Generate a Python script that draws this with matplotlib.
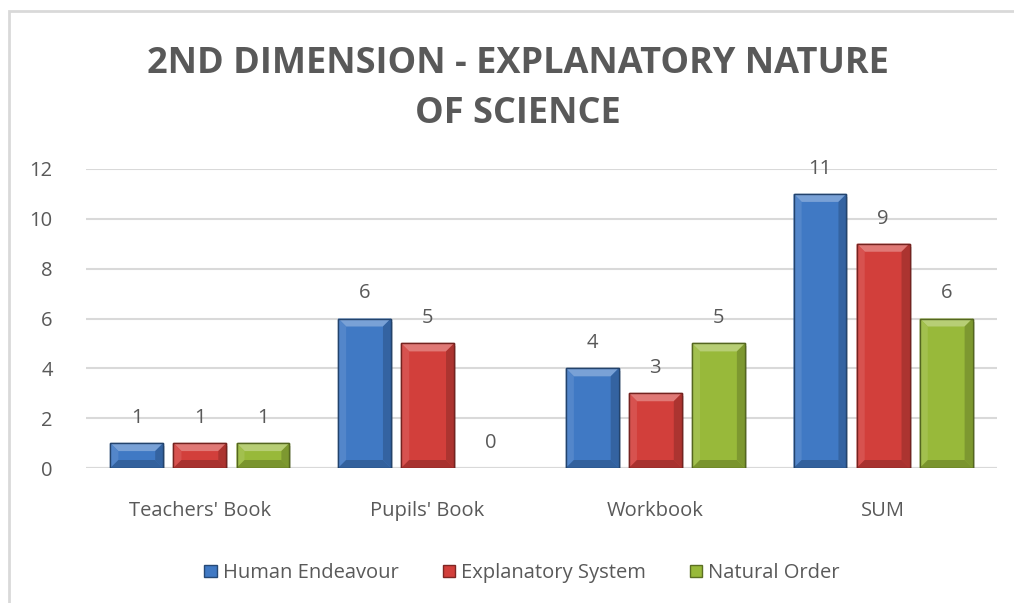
import matplotlib
matplotlib.use("Agg")
import matplotlib.pyplot as plt
from matplotlib.patches import Polygon, Rectangle
import matplotlib.colors as mcolors
import numpy as np

categories = ["Teachers' Book", "Pupils' Book", "Workbook", "SUM"]
series_names = ["Human Endeavour", "Explanatory System", "Natural Order"]
human_endeavour = [1, 6, 4, 11]
explanatory_system = [1, 5, 3, 9]
natural_order = [1, 0, 5, 6]
yticks = [0, 2, 4, 6, 8, 10, 12]
title = "2ND DIMENSION - EXPLANATORY NATURE\nOF SCIENCE"

colors = ["#4079c4", "#d23f3b", "#98b93a"]
series = [human_endeavour, explanatory_system, natural_order]

FONT = ["Open Sans", "DejaVu Sans"]
TXT = "#595959"
plt.rcParams['font.family'] = FONT

fig = plt.figure(figsize=(10.14, 6.03), dpi=100)
# chart border
fig.patches.append(Rectangle((8.5/1014, -0.1), 1.2, 1.1 - 11.5/603 + 0.0,
                             transform=fig.transFigure, fill=False,
                             edgecolor="#d9d9d9", lw=2.0))
ax = fig.add_axes([86/1014, 1-468/603, (997-86)/1014, (468-169)/603])
ax.set_xlim(-0.5, len(categories) - 0.5)
ax.set_ylim(0, 12)
ax.set_yticks(yticks)
ax.set_yticklabels([str(t) for t in yticks], fontsize=14.5, color=TXT)
ax.set_xticks(range(len(categories)))
ax.set_xticklabels(categories, fontsize=14.5, color=TXT)
ax.tick_params(length=0, pad=24, axis='y')
ax.tick_params(length=0, pad=24, axis='x')
for s in ax.spines.values():
    s.set_visible(False)
ax.grid(axis='y', color="#d9d9d9", lw=1.5)
ax.set_axisbelow(True)
ax.axhline(0, color="#d9d9d9", lw=1.5, zorder=1)

bw = 0.232
offs = [-0.277, 0.0, 0.277]

def shade(c, f):
    r, g, b = mcolors.to_rgb(c)
    if f > 0:
        return (r + (1-r)*f, g + (1-g)*f, b + (1-b)*f)
    return (r*(1+f), g*(1+f), b*(1+f))

# bevel depth in data units (pixel based)
px_x = 1/227.75
px_y = 12/299.0
dx = 8*px_x
dy = 8*px_y

for si, (vals, col) in enumerate(zip(series, colors)):
    for ci, v in enumerate(vals):
        x0 = ci + offs[si] - bw/2
        x1 = x0 + bw
        if v <= 0:
            continue
        # shadow
        ax.add_patch(Rectangle((x0 + 2*px_x, -3*px_y), bw, v, facecolor="#000000",
                               alpha=0.12, lw=0, zorder=2))
        ax.bar(ci + offs[si], v, bw, color=col, edgecolor=shade(col, -0.4),
               lw=1.0, zorder=3)
        d_y = min(dy, v/2)
        # top (light)
        ax.add_patch(Polygon([(x0, v), (x1, v), (x1-dx, v-d_y), (x0+dx, v-d_y)],
                             facecolor=shade(col, 0.3), lw=0, zorder=4))
        # left
        ax.add_patch(Polygon([(x0, v), (x0+dx, v-d_y), (x0+dx, d_y), (x0, 0)],
                             facecolor=shade(col, 0.1), lw=0, zorder=4))
        # right (dark)
        ax.add_patch(Polygon([(x1, v), (x1-dx, v-d_y), (x1-dx, d_y), (x1, 0)],
                             facecolor=shade(col, -0.18), lw=0, zorder=4))
        # bottom (dark)
        ax.add_patch(Polygon([(x0, 0), (x1, 0), (x1-dx, d_y), (x0+dx, d_y)],
                             facecolor=shade(col, -0.2), lw=0, zorder=4))
        ax.add_patch(Rectangle((x0, 0), bw, v, fill=False,
                               edgecolor=shade(col, -0.45), lw=1.0, zorder=5))
    for ci, v in enumerate(vals):
        ax.annotate(str(v), (ci + offs[si], v), xytext=(0, 18),
                    textcoords="offset points", ha="center", va="center",
                    fontsize=14.5, color=TXT)

fig.text(518/1014, 1-89/603, title, ha="center", va="center", fontsize=26,
         fontweight="bold", color=TXT, linespacing=1.52)

handles = [Rectangle((0, 0), 1, 1, facecolor=c, edgecolor=shade(c, -0.4)) for c in colors]
fig.legend(handles, series_names, loc="center", bbox_to_anchor=(522/1014, 1-573/603),
           ncol=3, frameon=False, fontsize=14.5, labelcolor=TXT,
           handlelength=0.6, handleheight=0.6, handletextpad=0.3, columnspacing=2.2)

fig.savefig("out.png", dpi=100)
